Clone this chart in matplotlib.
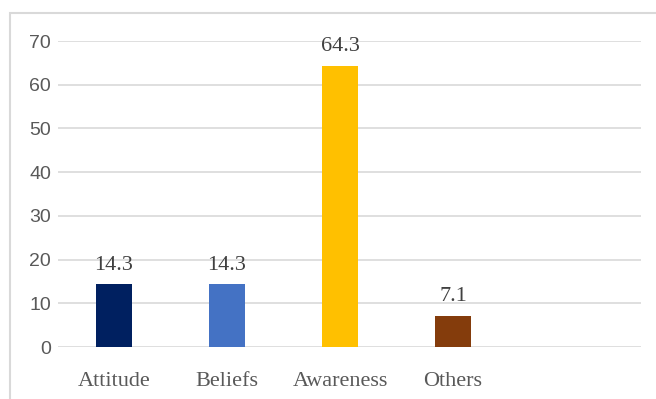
import matplotlib
matplotlib.use('Agg')
import matplotlib.pyplot as plt
import matplotlib.patches as patches

categories = ['Attitude', 'Beliefs', 'Awareness', 'Others']
values = [14.3, 14.3, 64.3, 7.1]
colors = ['#002060', '#4472C4', '#FFC000', '#843C0C']
yticks = [0, 10, 20, 30, 40, 50, 60, 70]

fig = plt.figure(figsize=(6.56, 3.99), dpi=100)
ax = fig.add_axes([58/656, 1 - 347/399, (641 - 58)/656, (347 - 41)/399])

x = list(range(len(categories)))
ax.bar(x, values, width=0.32, color=colors, zorder=3)

for xi, v in zip(x, values):
    ax.annotate(str(v), (xi, v), xytext=(0, 7), textcoords='offset points',
                ha='center', va='bottom', fontsize=16,
                family='Liberation Serif', color='#404040')

ax.set_xlim(-0.496, 4.664)
ax.set_ylim(0, 70)
ax.set_yticks(yticks)
ax.set_yticklabels([str(t) for t in yticks], family='Liberation Sans',
                   fontsize=14, color='#595959')
ax.set_xticks(x)
ax.set_xticklabels(categories, family='Liberation Serif', fontsize=16,
                   color='#595959')
ax.tick_params(axis='both', length=0)
ax.tick_params(axis='y', pad=5)
ax.tick_params(axis='x', pad=18)
ax.grid(axis='y', color='#d9d9d9', linewidth=1.2, zorder=0)
for s in ax.spines.values():
    s.set_visible(False)

# outer chart border (clipped on right and bottom)
border = patches.Rectangle((10/656, -0.1), 1.2, 1 - 13/399 + 0.1,
                           transform=fig.transFigure, fill=False,
                           edgecolor='#d9d9d9', linewidth=1.5)
fig.patches.append(border)

fig.savefig('out.png', dpi=100)
